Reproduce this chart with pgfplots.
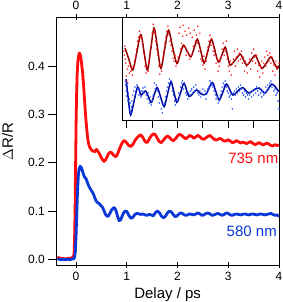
\documentclass[border=0pt]{standalone}
\usepackage{pgfplots}
\pgfplotsset{compat=1.18}
\usepackage{fontspec}
\setmainfont{Liberation Sans}
\definecolor{mred}{RGB}{255,12,12}
\definecolor{mblue}{RGB}{10,55,215}
\definecolor{dred}{RGB}{150,0,0}
\definecolor{dblue}{RGB}{0,10,160}
\definecolor{sred}{RGB}{255,30,30}
\definecolor{sblue}{RGB}{40,90,255}
\newcommand{\tickfont}{\fontsize{12}{12}\selectfont}
\newcommand{\labfont}{\fontsize{15}{15}\selectfont}
\begin{document}
\begin{tikzpicture}
\pgfplotsset{
  common/.style={scale only axis, width=222.7pt, height=248.2pt,
    xmin=-0.39, xmax=4.0, ymin=-0.013, ymax=0.502,
    axis line style={line width=0.9pt},
    tick style={line width=0.9pt, black},
    tick label style={font=\tickfont},
    /pgf/number format/assume math mode=true}
}
\begin{axis}[common, at={(0,0)}, anchor=south west,
  xtick={0,1,2,3,4}, xticklabel pos=lower, xtick style={draw=none},
  xticklabel style={yshift=-3pt},
  ytick={0,0.1,0.2,0.3,0.4}, ytick pos=left, ytick align=outside,
  major tick length=8pt,
  yticklabel style={/pgf/number format/.cd, fixed, fixed zerofill, precision=1},
  xlabel={Delay / ps}, ylabel={$\Delta$R/R},
  xlabel style={font=\labfont, at={(axis description cs:0.5,0)}, anchor=north, yshift=-22pt, inner sep=0pt},
  ylabel style={font=\labfont, at={(axis description cs:-0.245,0.5)}, anchor=north, inner sep=0pt},
]
\addplot[mred, line width=2.8pt, line join=round] coordinates {
(-0.37,0.004)(-0.33,0.003)(-0.29,0.001)(-0.25,0.002)(-0.21,0.000)(-0.17,0.002)(-0.13,0.001)(-0.09,0.003)(-0.06,0.004)(-0.04,0.010)(-0.03,0.040)(-0.02,0.100)(-0.01,0.190)(0.00,0.280)(0.01,0.340)(0.02,0.380)(0.035,0.410)(0.05,0.422)(0.065,0.428)(0.08,0.425)(0.095,0.418)(0.11,0.405)(0.13,0.385)(0.15,0.358)(0.17,0.325)(0.19,0.295)(0.21,0.270)(0.23,0.250)(0.25,0.238)(0.27,0.232)(0.29,0.229)(0.31,0.226)(0.33,0.224)(0.35,0.225)(0.37,0.223)(0.40,0.228)(0.43,0.224)(0.46,0.219)(0.49,0.212)(0.52,0.207)(0.55,0.203)(0.58,0.206)(0.61,0.212)(0.64,0.219)(0.67,0.222)(0.70,0.221)(0.73,0.217)(0.76,0.214)(0.79,0.213)(0.82,0.219)(0.86,0.230)(0.90,0.240)(0.94,0.246)(0.97,0.245)(1.00,0.241)(1.04,0.236)(1.08,0.234)(1.12,0.238)(1.16,0.246)(1.20,0.252)(1.24,0.256)(1.28,0.258)(1.32,0.252)(1.36,0.244)(1.40,0.242)(1.44,0.249)(1.48,0.256)(1.52,0.260)(1.56,0.259)(1.60,0.251)(1.64,0.244)(1.68,0.242)(1.72,0.247)(1.76,0.252)(1.80,0.256)(1.84,0.253)(1.88,0.248)(1.92,0.246)(1.96,0.250)(2.00,0.256)(2.04,0.259)(2.08,0.257)(2.12,0.253)(2.16,0.250)(2.20,0.253)(2.24,0.257)(2.28,0.255)(2.32,0.251)(2.36,0.254)(2.40,0.257)(2.44,0.254)(2.48,0.250)(2.52,0.249)(2.56,0.252)(2.60,0.255)(2.64,0.257)(2.68,0.253)(2.72,0.249)(2.76,0.247)(2.80,0.249)(2.84,0.251)(2.88,0.248)(2.92,0.245)(2.96,0.246)(3.00,0.248)(3.04,0.245)(3.08,0.242)(3.12,0.243)(3.16,0.246)(3.20,0.244)(3.24,0.241)(3.28,0.243)(3.32,0.242)(3.36,0.240)(3.40,0.242)(3.44,0.244)(3.48,0.241)(3.52,0.238)(3.56,0.239)(3.60,0.242)(3.64,0.240)(3.68,0.237)(3.72,0.239)(3.76,0.241)(3.80,0.239)(3.84,0.236)(3.88,0.235)(3.92,0.238)(3.96,0.236)(4.00,0.237)
};
\addplot[mblue, line width=2.8pt, line join=round] coordinates {
(-0.37,0.001)(-0.33,0.000)(-0.29,-0.001)(-0.25,0.000)(-0.21,-0.001)(-0.17,0.000)(-0.13,-0.001)(-0.09,0.000)(-0.05,0.001)(-0.03,0.004)(-0.015,0.015)(0.00,0.050)(0.015,0.100)(0.03,0.145)(0.045,0.175)(0.06,0.188)(0.08,0.193)(0.10,0.191)(0.12,0.185)(0.14,0.178)(0.16,0.172)(0.18,0.169)(0.20,0.166)(0.22,0.160)(0.25,0.152)(0.28,0.146)(0.31,0.141)(0.34,0.136)(0.37,0.127)(0.40,0.120)(0.43,0.117)(0.46,0.115)(0.49,0.111)(0.52,0.108)(0.55,0.101)(0.58,0.093)(0.61,0.089)(0.64,0.090)(0.67,0.096)(0.70,0.102)(0.73,0.106)(0.76,0.107)(0.79,0.100)(0.82,0.088)(0.85,0.080)(0.88,0.082)(0.91,0.090)(0.94,0.097)(0.97,0.100)(1.00,0.099)(1.04,0.091)(1.08,0.085)(1.12,0.087)(1.16,0.093)(1.20,0.095)(1.24,0.094)(1.28,0.093)(1.32,0.094)(1.36,0.092)(1.40,0.091)(1.44,0.093)(1.48,0.092)(1.52,0.090)(1.56,0.096)(1.60,0.100)(1.64,0.097)(1.68,0.090)(1.72,0.086)(1.76,0.089)(1.80,0.096)(1.84,0.100)(1.88,0.098)(1.92,0.092)(1.96,0.088)(2.00,0.091)(2.04,0.095)(2.08,0.096)(2.12,0.093)(2.16,0.091)(2.20,0.092)(2.24,0.094)(2.28,0.093)(2.32,0.092)(2.36,0.094)(2.40,0.096)(2.44,0.094)(2.48,0.091)(2.52,0.092)(2.56,0.095)(2.60,0.096)(2.64,0.094)(2.68,0.091)(2.72,0.092)(2.76,0.094)(2.80,0.095)(2.84,0.093)(2.88,0.091)(2.92,0.093)(2.96,0.096)(3.00,0.095)(3.04,0.092)(3.08,0.091)(3.12,0.093)(3.16,0.094)(3.20,0.093)(3.24,0.092)(3.28,0.093)(3.32,0.094)(3.36,0.093)(3.40,0.092)(3.44,0.093)(3.48,0.094)(3.52,0.093)(3.56,0.092)(3.60,0.093)(3.64,0.094)(3.68,0.093)(3.72,0.092)(3.76,0.093)(3.80,0.094)(3.84,0.095)(3.88,0.093)(3.92,0.091)(3.96,0.092)(4.00,0.089)
};
\node[mred, font=\labfont, anchor=east, inner sep=0pt] at (axis cs:3.99,0.210) {735 nm};
\node[mblue, font=\labfont, anchor=east, inner sep=0pt] at (axis cs:3.96,0.0587) {580 nm};
\end{axis}
% top/bottom x ticks and top labels
\begin{axis}[common, at={(0,0)}, anchor=south west, hide y axis,
  xtick={0,1,2,3,4}, xtick pos=both, xticklabel pos=upper,
  xtick align=center, major tick length=6pt,
  xticklabel style={yshift=1pt}]
\end{axis}
% inset
\begin{axis}[scale only axis, at={(66.5pt,144.9pt)}, anchor=south west,
  width=156.2pt, height=103.3pt,
  xmin=0.921, xmax=4.0, ymin=0.3, ymax=104,
  axis background/.style={fill=white},
  axis line style={line width=0.9pt},
  tick style={line width=0.9pt, black},
  xtick={1,2,3,4}, minor xtick={1.5,2.5,3.5}, xticklabels={},
  xtick pos=lower, xtick align=outside,
  major tick length=7pt, minor tick length=7pt,
  ytick=\empty, clip=true]
\addplot[only marks, mark=*, mark size=0.55pt, sred, mark options={draw=none}] coordinates {
(0.94,70)(0.95,66)(0.96,75)(0.97,62)(0.98,58)(0.99,45)(1.00,40)(1.01,52)(1.02,38)(1.03,55)(1.05,48)(1.06,58)(1.08,50)(1.10,53)(1.11,46)(1.13,55)(1.15,60)(1.17,64)(1.19,72)(1.21,80)(1.23,84)(1.25,90)(1.27,85)(1.29,83)(1.31,78)(1.33,68)(1.35,62)(1.36,55)(1.38,48)(1.40,54)(1.42,50)(1.44,58)(1.46,70)(1.48,76)(1.50,88)(1.52,97)(1.54,92)(1.55,88)(1.57,80)(1.59,72)(1.61,66)(1.63,55)(1.65,47)(1.67,55)(1.69,50)(1.71,62)(1.73,70)(1.75,78)(1.77,84)(1.79,90)(1.81,95)(1.83,87)(1.85,80)(1.87,76)(1.89,70)(1.91,63)(1.93,60)(1.95,66)(1.97,55)(1.99,60)(2.01,64)(2.03,88)(2.05,94)(2.06,72)(2.08,78)(2.10,85)(2.11,96)(2.13,74)(2.15,90)(2.17,66)(2.18,86)(2.20,69)(2.22,93)(2.24,62)(2.25,88)(2.27,66)(2.29,84)(2.31,75)(2.33,91)(2.35,80)(2.37,86)(2.39,78)(2.40,95)(2.42,70)(2.44,88)(2.46,62)(2.48,60)(2.50,56)(2.52,65)(2.54,52)(2.56,60)(2.58,68)(2.60,74)(2.62,80)(2.64,86)(2.66,76)(2.68,82)(2.70,70)(2.72,66)(2.74,72)(2.76,58)(2.78,62)(2.80,50)(2.82,55)(2.84,60)(2.86,64)(2.88,72)(2.90,78)(2.92,66)(2.94,70)(2.96,80)(2.98,62)(3.00,55)(3.02,50)(3.04,60)(3.06,46)(3.08,58)(3.10,62)(3.12,70)(3.14,55)(3.16,64)(3.18,72)(3.20,60)(3.22,68)(3.24,62)(3.26,70)(3.28,58)(3.30,64)(3.32,50)(3.34,60)(3.36,55)(3.38,48)(3.40,58)(3.42,62)(3.44,52)(3.46,68)(3.48,60)(3.50,72)(3.52,64)(3.54,58)(3.56,66)(3.58,50)(3.60,56)(3.62,44)(3.64,54)(3.66,60)(3.68,48)(3.70,58)(3.72,64)(3.74,55)(3.76,70)(3.78,66)(3.80,60)(3.82,68)(3.84,58)(3.86,64)(3.88,50)(3.90,56)(3.92,46)(3.94,60)(3.96,52)(3.98,55)(4.00,58)
};
\addplot[only marks, mark=*, mark size=0.55pt, sblue, mark options={draw=none}] coordinates {
(0.97,40)(0.98,36)(0.99,30)(1.00,25)(1.01,38)(1.02,20)(1.03,28)(1.04,14)(1.05,22)(1.06,10)(1.07,18)(1.08,8)(1.09,14)(1.10,20)(1.12,26)(1.14,30)(1.16,34)(1.18,28)(1.20,36)(1.22,32)(1.24,26)(1.26,30)(1.28,24)(1.30,30)(1.32,33)(1.34,28)(1.36,34)(1.38,26)(1.40,22)(1.42,28)(1.44,18)(1.46,24)(1.48,16)(1.50,20)(1.52,26)(1.54,38)(1.56,32)(1.58,36)(1.60,30)(1.62,24)(1.64,18)(1.66,22)(1.68,12)(1.70,8)(1.72,16)(1.74,18)(1.76,24)(1.78,30)(1.80,34)(1.82,38)(1.84,42)(1.86,36)(1.88,40)(1.90,30)(1.92,26)(1.94,20)(1.96,16)(1.98,22)(2.00,20)(2.02,28)(2.04,24)(2.06,34)(2.08,38)(2.10,40)(2.12,32)(2.14,36)(2.16,28)(2.18,26)(2.20,22)(2.22,28)(2.24,26)(2.26,30)(2.28,32)(2.30,28)(2.32,34)(2.34,30)(2.36,36)(2.38,32)(2.40,28)(2.42,26)(2.44,30)(2.46,24)(2.48,28)(2.50,32)(2.52,26)(2.54,30)(2.56,22)(2.58,28)(2.60,32)(2.62,34)(2.64,40)(2.66,38)(2.68,36)(2.70,34)(2.72,30)(2.74,26)(2.76,22)(2.78,24)(2.80,18)(2.82,20)(2.84,26)(2.86,30)(2.88,34)(2.90,38)(2.92,36)(2.94,40)(2.96,34)(2.98,30)(3.00,28)(3.02,24)(3.04,26)(3.06,22)(3.08,12)(3.10,28)(3.12,30)(3.14,26)(3.16,32)(3.18,28)(3.20,34)(3.22,30)(3.24,36)(3.26,32)(3.28,28)(3.30,26)(3.32,30)(3.34,24)(3.36,28)(3.38,26)(3.40,22)(3.42,26)(3.44,28)(3.46,24)(3.48,30)(3.50,26)(3.52,32)(3.54,28)(3.56,34)(3.58,30)(3.60,26)(3.62,32)(3.64,28)(3.66,24)(3.68,30)(3.70,26)(3.72,28)(3.74,34)(3.76,30)(3.78,36)(3.80,32)(3.82,38)(3.84,40)(3.86,34)(3.88,36)(3.90,30)(3.92,32)(3.94,26)(3.96,28)(3.98,20)(4.00,12)
};
\addplot[dred, line width=1.5pt, smooth] coordinates {
(0.966,73)(1.04,62)(1.118,51)(1.197,69)(1.276,86.7)(1.341,69)(1.406,51)(1.472,72)(1.538,93.3)(1.605,73)(1.671,52.7)(1.746,72)(1.821,91)(1.903,74)(1.986,57.7)(2.051,67)(2.116,76)(2.189,70)(2.262,64.3)(2.327,73)(2.393,82)(2.459,70)(2.525,58)(2.597,70)(2.669,82)(2.738,70)(2.807,59)(2.873,66)(2.939,74)(2.988,65)(3.037,56)(3.136,61)(3.235,67)(3.301,61)(3.367,56)(3.449,61)(3.531,66)(3.597,59)(3.663,52.7)(3.751,58)(3.840,64.3)(3.905,58)(3.970,52.7)(4.0,56)
};
\addplot[dblue, line width=1.5pt, smooth] coordinates {
(0.986,42)(1.03,22)(1.075,6)(1.144,20)(1.213,34)(1.282,26)(1.371,30)(1.479,18.5)(1.538,26)(1.598,33.5)(1.667,24)(1.736,14.3)(1.803,27)(1.870,39.3)(1.928,29)(1.986,18.5)(2.058,28)(2.130,37.7)(2.229,24.5)(2.367,31)(2.465,27)(2.564,27)(2.682,38.5)(2.751,30)(2.821,21)(2.895,29)(2.968,37)(3.087,26)(3.185,30)(3.284,33.5)(3.398,28)(3.503,31)(3.609,33)(3.728,28)(3.860,37)(3.994,29.3)
};
\end{axis}
\pgfresetboundingbox
\path[use as bounding box] (-56.3pt,-36.5pt) rectangle (225.7pt,265.5pt);
\end{tikzpicture}
\end{document}
